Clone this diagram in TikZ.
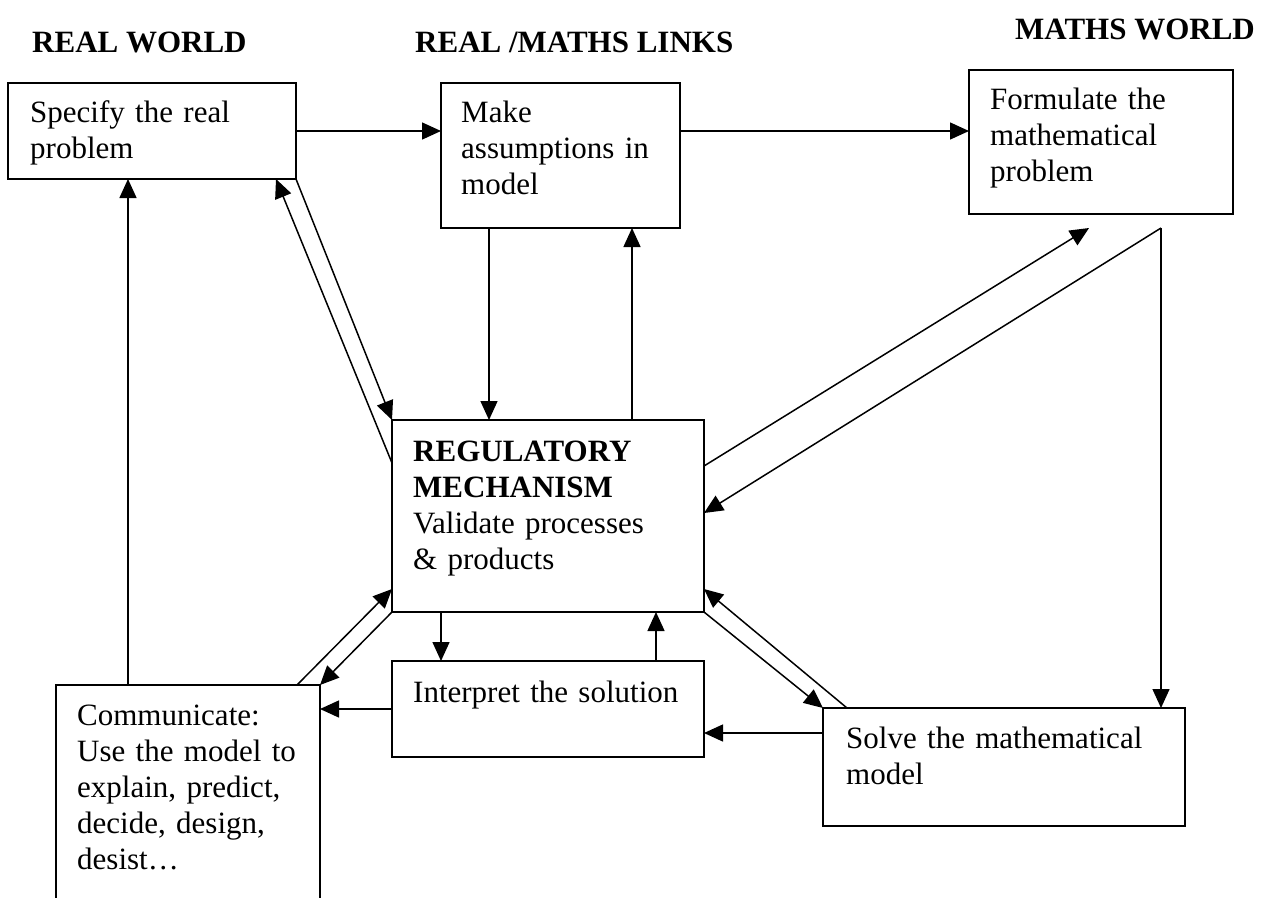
\documentclass[tikz,border=0pt]{standalone}
\usepackage{fontspec}
\setmainfont{Liberation Serif}
\usetikzlibrary{arrows.meta,calc}
\begin{document}
\begin{tikzpicture}[x=1pt,y=-1pt,
  box/.style={draw,line width=1.5pt,rectangle,inner sep=0pt,outer sep=0pt,anchor=north west},
  txt/.style={anchor=base west,inner sep=0pt,text width=420pt,align=left,font=\fontsize{31}{36}\selectfont},
  ttl/.style={anchor=base west,inner sep=0pt,font=\fontsize{31}{36}\selectfont\bfseries},
  arr/.style={line width=1.5pt,-{Triangle[length=19pt,width=17pt]}},
  ln/.style={line width=1.5pt}]
\useasboundingbox (0,0) rectangle (1271,897);
\clip (0,0) rectangle (1271,897);
% titles
\node[ttl] (t1) at (32,52) {REAL WORLD};
\node[ttl] (t2) at (415,52) {REAL /MATHS LINKS};
\node[ttl] (t3) at (1015,39) {MATHS WORLD};
% boxes
\node[box,minimum width=288pt,minimum height=96pt] (b1) at (8,83) {};
\node[box,minimum width=239pt,minimum height=145pt] (b2) at (441,83) {};
\node[box,minimum width=264pt,minimum height=144pt] (b3) at (969,70) {};
\node[box,minimum width=312pt,minimum height=192pt] (reg) at (392,420) {};
\node[box,minimum width=312pt,minimum height=96pt] (int) at (392,661) {};
\node[box,minimum width=362pt,minimum height=118pt] (solve) at (823,708) {};
\node[box,minimum width=264pt,minimum height=240pt] (comm) at (56,685) {};
% texts
\node[txt] (x1) at (30,122) {Specify the real\\problem};
\node[txt] (x2) at (461,122) {Make\\assumptions in\\model};
\node[txt] (x3) at (990,109) {Formulate the\\mathematical\\problem};
\node[txt] (xr) at (413,461) {\textbf{REGULATORY}\\\textbf{MECHANISM}\\Validate processes\\\& products};
\node[txt] (xi) at (413,702) {Interpret the solution};
\node[txt] (xs) at (846,748) {Solve the mathematical\\model};
\node[txt] (xc) at (77,725) {Communicate:\\Use the model to\\explain, predict,\\decide, design,\\desist…};
% coordinates
\coordinate (up3) at ($(b3.south west)+(120,14)$);
\coordinate (f3) at ($(b3.south west)+(192,14)$);
% connectors
\draw[arr] (b1.east) -- (b1.east -| b2.west);
\draw[arr] (b2.east |- b1.east) -- (b1.east -| b3.west);
\draw[arr] ($(b2.south west)+(48,0)$) -- ($(reg.north west)+(97,0)$);
\draw[arr] ($(reg.north west)+(240,0)$) -- ($(b2.south west)+(191,0)$);
\draw[arr] (b1.south east) -- (reg.north west);
\draw[arr] ($(reg.north west)+(0,43)$) -- ($(b1.south west)+(268,0)$);
\draw[arr] ($(reg.north east)+(0,46)$) -- (up3);
\draw[arr] (f3) -- ($(reg.north east)+(0,93)$);
\draw[arr] (f3) -- (f3 |- solve.north);
\draw[arr] ($(solve.north west)+(24,0)$) -- ($(reg.south east)+(0,-23)$);
\draw[arr] (reg.south east) -- (solve.north west);
\draw[arr] ($(reg.south west)+(49,0)$) -- ($(int.north west)+(49,0)$);
\draw[arr] ($(int.north west)+(264,0)$) -- ($(reg.south west)+(264,0)$);
\draw[arr] ($(solve.north west)+(0,25)$) -- ($(int.north east)+(0,72)$);
\draw[arr] ($(int.north west)+(0,48)$) -- ($(comm.north east)+(0,24)$);
\draw[arr] ($(comm.north east)+(-23,0)$) -- ($(reg.south west)+(0,-23)$);
\draw[arr] (reg.south west) -- (comm.north east);
\draw[arr] ($(comm.north west)+(72,0)$) -- ($(b1.south west)+(120,0)$);
\end{tikzpicture}
\end{document}
